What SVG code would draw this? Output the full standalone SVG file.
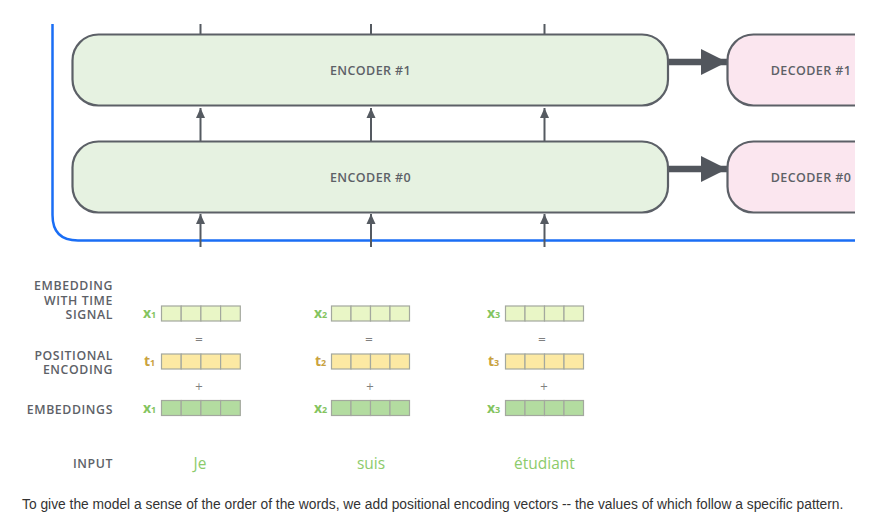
<svg xmlns="http://www.w3.org/2000/svg" width="872" height="531" viewBox="0 0 872 531">
<defs>
<clipPath id="clip"><rect x="0" y="24" width="855" height="240"/></clipPath>
<marker id="ah" viewBox="0 0 10 10" refX="10" refY="5" markerWidth="10" markerHeight="10" markerUnits="userSpaceOnUse" orient="auto"><path d="M0,0.5 L10,5 L0,9.5 Z" fill="#555a61"/></marker>
<marker id="bigah" viewBox="0 0 26 26" refX="26" refY="13" markerWidth="26" markerHeight="26" markerUnits="userSpaceOnUse" orient="auto"><path d="M0,0 L26,13 L0,26 Z" fill="#52565d"/></marker>
</defs>
<style>
.enc{fill:#e6f2e1;stroke:#5c6067;stroke-width:2.2}
.dec{fill:#fbe6ef;stroke:#5c6067;stroke-width:2.2}
.lbl{font-family:"Open Sans","Liberation Sans",sans-serif;font-size:12.5px;font-weight:600;fill:#5d6167;letter-spacing:0.4px}
.side{font-family:"Open Sans","Liberation Sans",sans-serif;font-size:12.3px;font-weight:600;fill:#5d6167;text-anchor:end;letter-spacing:0.6px}
.up{stroke:#555a61;stroke-width:2;fill:none}
.cell{stroke:#a3a89e;stroke-width:1.2}
.emb{fill:#e9f6c6}
.pos{fill:#fce9a3}
.inp{fill:#b3dca0}
.xl{font-family:"Open Sans","Liberation Sans",sans-serif;font-size:14px;font-weight:bold;fill:#84c460}
.tl{font-family:"Open Sans","Liberation Sans",sans-serif;font-size:14px;font-weight:bold;fill:#c9a23e}
.sub{font-size:9px}
.op{font-family:"DejaVu Sans",sans-serif;font-size:10px;fill:#808080;text-anchor:middle}
.word{font-family:"Open Sans","Liberation Sans",sans-serif;font-size:15.5px;fill:#8ccb6b;text-anchor:middle}
.cap{font-family:"Liberation Sans",Arial,sans-serif;font-size:13.8px;fill:#333}
</style>
<g clip-path="url(#clip)">
<path id="frame" d="M52.5,24 V215 Q52.5,240.5 78,240.5 H855" fill="none" stroke="#1a6ef5" stroke-width="2.5"/>
<g id="connectors">
<line class="up" x1="200.5" y1="20" x2="200.5" y2="34"/>
<line class="up" x1="371" y1="20" x2="371" y2="34"/>
<line class="up" x1="544.5" y1="20" x2="544.5" y2="34"/>
<line class="up" x1="200.5" y1="141" x2="200.5" y2="108" marker-end="url(#ah)"/>
<line class="up" x1="371" y1="141" x2="371" y2="108" marker-end="url(#ah)"/>
<line class="up" x1="544.5" y1="141" x2="544.5" y2="108" marker-end="url(#ah)"/>
<line class="up" x1="200.5" y1="247" x2="200.5" y2="214" marker-end="url(#ah)"/>
<line class="up" x1="371" y1="247" x2="371" y2="214" marker-end="url(#ah)"/>
<line class="up" x1="544.5" y1="247" x2="544.5" y2="214" marker-end="url(#ah)"/>
<line x1="668" y1="62" x2="727" y2="62" stroke="#52565d" stroke-width="6.5" marker-end="url(#bigah)"/>
<line x1="668" y1="169" x2="727" y2="169" stroke="#52565d" stroke-width="6.5" marker-end="url(#bigah)"/>
</g>
<g id="encoder1"><rect class="enc" x="72.5" y="34.5" width="595.5" height="71" rx="26"/><text class="lbl" x="370.5" y="74.5" text-anchor="middle">ENCODER #1</text></g>
<g id="encoder0"><rect class="enc" x="72.5" y="141.5" width="595.5" height="71" rx="26"/><text class="lbl" x="370.5" y="181.5" text-anchor="middle">ENCODER #0</text></g>
<g id="decoder1"><rect class="dec" x="727.5" y="34.5" width="200" height="71" rx="26"/><text class="lbl" x="811" y="74.5" text-anchor="middle">DECODER #1</text></g>
<g id="decoder0"><rect class="dec" x="727.5" y="141.5" width="200" height="71" rx="26"/><text class="lbl" x="811" y="181.5" text-anchor="middle">DECODER #0</text></g>
</g>
<g id="labels">
<text class="side"><tspan x="113" y="290">EMBEDDING</tspan><tspan x="113" y="304.5">WITH TIME</tspan><tspan x="113" y="319">SIGNAL</tspan></text>
<text class="side"><tspan x="113" y="359.5">POSITIONAL</tspan><tspan x="113" y="374">ENCODING</tspan></text>
<text class="side" x="113" y="414">EMBEDDINGS</text>
<text class="side" x="113" y="468">INPUT</text>
</g>
<g id="vec1">
<text class="xl" x="143" y="318">x<tspan class="sub">1</tspan></text>
<g class="emb"><rect class="cell" x="161.5" y="306" width="19.7" height="15"/><rect class="cell" x="181.2" y="306" width="19.7" height="15"/><rect class="cell" x="200.9" y="306" width="19.7" height="15"/><rect class="cell" x="220.6" y="306" width="19.7" height="15"/></g>
<text class="op" x="199" y="343">=</text>
<text class="tl" x="144" y="366">t<tspan class="sub">1</tspan></text>
<g class="pos"><rect class="cell" x="161.5" y="354" width="19.7" height="15"/><rect class="cell" x="181.2" y="354" width="19.7" height="15"/><rect class="cell" x="200.9" y="354" width="19.7" height="15"/><rect class="cell" x="220.6" y="354" width="19.7" height="15"/></g>
<text class="op" x="199" y="389.5">+</text>
<text class="xl" x="143" y="413">x<tspan class="sub">1</tspan></text>
<g class="inp"><rect class="cell" x="161.5" y="400.5" width="19.7" height="15"/><rect class="cell" x="181.2" y="400.5" width="19.7" height="15"/><rect class="cell" x="200.9" y="400.5" width="19.7" height="15"/><rect class="cell" x="220.6" y="400.5" width="19.7" height="15"/></g>
<text class="word" x="200" y="469">Je</text>
</g>
<g id="vec2">
<text class="xl" x="314" y="318">x<tspan class="sub">2</tspan></text>
<g class="emb"><rect class="cell" x="331.5" y="306" width="19.5" height="15"/><rect class="cell" x="351" y="306" width="19.5" height="15"/><rect class="cell" x="370.5" y="306" width="19.5" height="15"/><rect class="cell" x="390" y="306" width="19.5" height="15"/></g>
<text class="op" x="369" y="343">=</text>
<text class="tl" x="315" y="366">t<tspan class="sub">2</tspan></text>
<g class="pos"><rect class="cell" x="331.5" y="354" width="19.5" height="15"/><rect class="cell" x="351" y="354" width="19.5" height="15"/><rect class="cell" x="370.5" y="354" width="19.5" height="15"/><rect class="cell" x="390" y="354" width="19.5" height="15"/></g>
<text class="op" x="370" y="389.5">+</text>
<text class="xl" x="314" y="413">x<tspan class="sub">2</tspan></text>
<g class="inp"><rect class="cell" x="331.5" y="400.5" width="19.5" height="15"/><rect class="cell" x="351" y="400.5" width="19.5" height="15"/><rect class="cell" x="370.5" y="400.5" width="19.5" height="15"/><rect class="cell" x="390" y="400.5" width="19.5" height="15"/></g>
<text class="word" x="371" y="469">suis</text>
</g>
<g id="vec3">
<text class="xl" x="487" y="318">x<tspan class="sub">3</tspan></text>
<g class="emb"><rect class="cell" x="505.5" y="306" width="19.5" height="15"/><rect class="cell" x="525" y="306" width="19.5" height="15"/><rect class="cell" x="544.5" y="306" width="19.5" height="15"/><rect class="cell" x="564" y="306" width="19.5" height="15"/></g>
<text class="op" x="542" y="343">=</text>
<text class="tl" x="488" y="366">t<tspan class="sub">3</tspan></text>
<g class="pos"><rect class="cell" x="505.5" y="354" width="19.5" height="15"/><rect class="cell" x="525" y="354" width="19.5" height="15"/><rect class="cell" x="544.5" y="354" width="19.5" height="15"/><rect class="cell" x="564" y="354" width="19.5" height="15"/></g>
<text class="op" x="544" y="389.5">+</text>
<text class="xl" x="487" y="413">x<tspan class="sub">3</tspan></text>
<g class="inp"><rect class="cell" x="505.5" y="400.5" width="19.5" height="15"/><rect class="cell" x="525" y="400.5" width="19.5" height="15"/><rect class="cell" x="544.5" y="400.5" width="19.5" height="15"/><rect class="cell" x="564" y="400.5" width="19.5" height="15"/></g>
<text class="word" x="544.5" y="469">étudiant</text>
</g>
<text class="cap" x="22" y="509">To give the model a sense of the order of the words, we add positional encoding vectors -- the values of which follow a specific pattern.</text>
</svg>
